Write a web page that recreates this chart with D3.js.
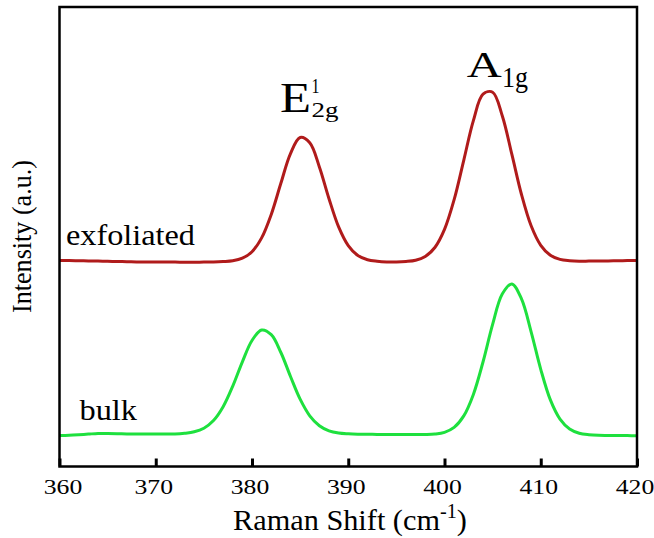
<!DOCTYPE html>
<html>
<head>
<meta charset="utf-8">
<script src="https://cdn.jsdelivr.net/npm/d3@7"></script>
<style>
  html, body { margin: 0; padding: 0; background: #fff; }
  svg { display: block; }
</style>
</head>
<body>
<svg id="chart" width="654" height="538"></svg>
<script>
// ---- data ----
const shift = [360,361,362,363,364,365,366,367,368,369,370,371,372,373,374,375,376,377,378,379,380,
               381,382,383,384,385,386,387,388,389,390,391,392,393,394,395,396,397,398,399,400,
               401,402,403,404,405,406,407,408,409,410,411,412,413,414,415,416,417,418,419,420];
const exfoliated = [206,206,205.8,205.6,205.4,205.2,205,204.8,204.6,204.5,204.5,204.4,204.4,204.3,204.3,204.4,204.5,204.9,205.7,208.3,214.8,
                    228.6,252.1,283.2,312.9,329,323.7,299.6,267.8,239.6,220.9,211,206.8,205.3,204.6,204.5,205,206.3,210.1,219,237.1,
                    266.8,306.2,345.9,372.3,374.3,350.8,312.1,272,240.7,221.2,211.3,207.1,205.8,205.3,205.4,205.5,205.6,205.7,205.9,206];
const bulk = [31,31.3,31.8,32.4,33,33,32.8,32.5,32.4,32.4,32.5,32.5,32.5,33.2,34.7,38.3,46,59.8,80.4,104.7,126,
              136.5,131.8,114,90,67.3,50.7,40.8,35.7,33.5,32.7,32.3,32.2,32.1,32,32,31.9,31.9,32,32.5,34.2,
              39.1,50.6,72.1,104.5,142.1,172.4,182.6,167.6,134.7,97.2,66.6,47.4,37.5,33.3,31.8,31.2,31.1,31,30.9,30.8];
const tickValues = [360,370,380,390,400,410,420];
const tickLabels = ["360","370","380","390","400","410","420"];
const seriesNames = ["exfoliated","bulk"];
const seriesColors = ["#b01b1b","#1ee03e"];

// ---- layout ----
const FONT = "'Liberation Serif', 'DejaVu Serif', serif";
const svg = d3.select("#chart");
const mLeft = 59.5, mRight = 637, mTop = 7, mBottom = 466.5;
const x = d3.scaleLinear().domain([360,420]).range([mLeft,mRight]);
const y = d3.scaleLinear().domain([0,459.5]).range([mBottom,mTop]);

function txt(str, size) {
  return svg.append("text").style("font-family", FONT).style("font-size", size + "px")
            .attr("fill", "#000").text(str);
}
// fit text horizontally to a target width, anchored at (ax, ay)
function fit(t, ax, ay, w) {
  const n = t.node().getComputedTextLength();
  t.attr("x",0).attr("y",0).attr("transform",`translate(${ax},${ay}) scale(${w/n},1)`);
  return t;
}

// curves
const line = d3.line().x((d,i)=>x(shift[i])).y(d=>y(d)).curve(d3.curveCatmullRom.alpha(0.5));
[exfoliated, bulk].forEach((s,k)=>{
  svg.append("path").attr("d", line(s)).attr("fill","none")
     .attr("stroke", seriesColors[k]).attr("stroke-width",3).attr("stroke-linejoin","round");
});

// axis ticks (inward)
const axis = d3.axisBottom(x).tickValues(tickValues).tickSize(-8).tickFormat("");
const ag = svg.append("g").attr("transform",`translate(0,${mBottom})`).call(axis);
ag.select(".domain").remove();
ag.selectAll(".tick line").attr("stroke","#000").attr("stroke-width",3);

// frame
svg.append("rect").attr("x",mLeft).attr("y",mTop).attr("width",mRight-mLeft).attr("height",mBottom-mTop)
   .attr("fill","none").attr("stroke","#000").attr("stroke-width",2.5);

// tick labels
tickValues.forEach((v,i)=>{
  const t = txt(tickLabels[i], 22).attr("text-anchor","middle");
  fit(t, Math.max(x(v)-2, 63), 493.5, 38.5);
});

// x axis title
const xt = svg.append("text").style("font-family", FONT).style("font-size","30px").attr("fill","#000");
xt.append("tspan").text("Raman Shift (cm");
xt.append("tspan").style("font-size","20px").attr("dy",-12).text("-1");
xt.append("tspan").attr("dy",12).text(")");
fit(xt, 233, 530, 234);

// y axis title
const yt = txt("Intensity (a.u.)", 27).attr("text-anchor","middle");
{
  const n = yt.node().getComputedTextLength();
  yt.attr("x",0).attr("y",0).attr("transform",`translate(31,236.5) rotate(-90) scale(${153/n},1)`);
}

// series labels
fit(txt(seriesNames[0], 30), 66, 245, 129);
fit(txt(seriesNames[1], 30), 79.5, 419.5, 57.5);

// peak labels
fit(txt("E", 42), 280, 111.5, 31);
fit(txt("1", 20), 311.5, 92.5, 8);
fit(txt("2g", 21), 311.5, 117, 27);
fit(txt("A", 35), 466.7, 76.7, 35);
fit(txt("1g", 29), 502, 86.7, 26);
</script>
</body>
</html>
